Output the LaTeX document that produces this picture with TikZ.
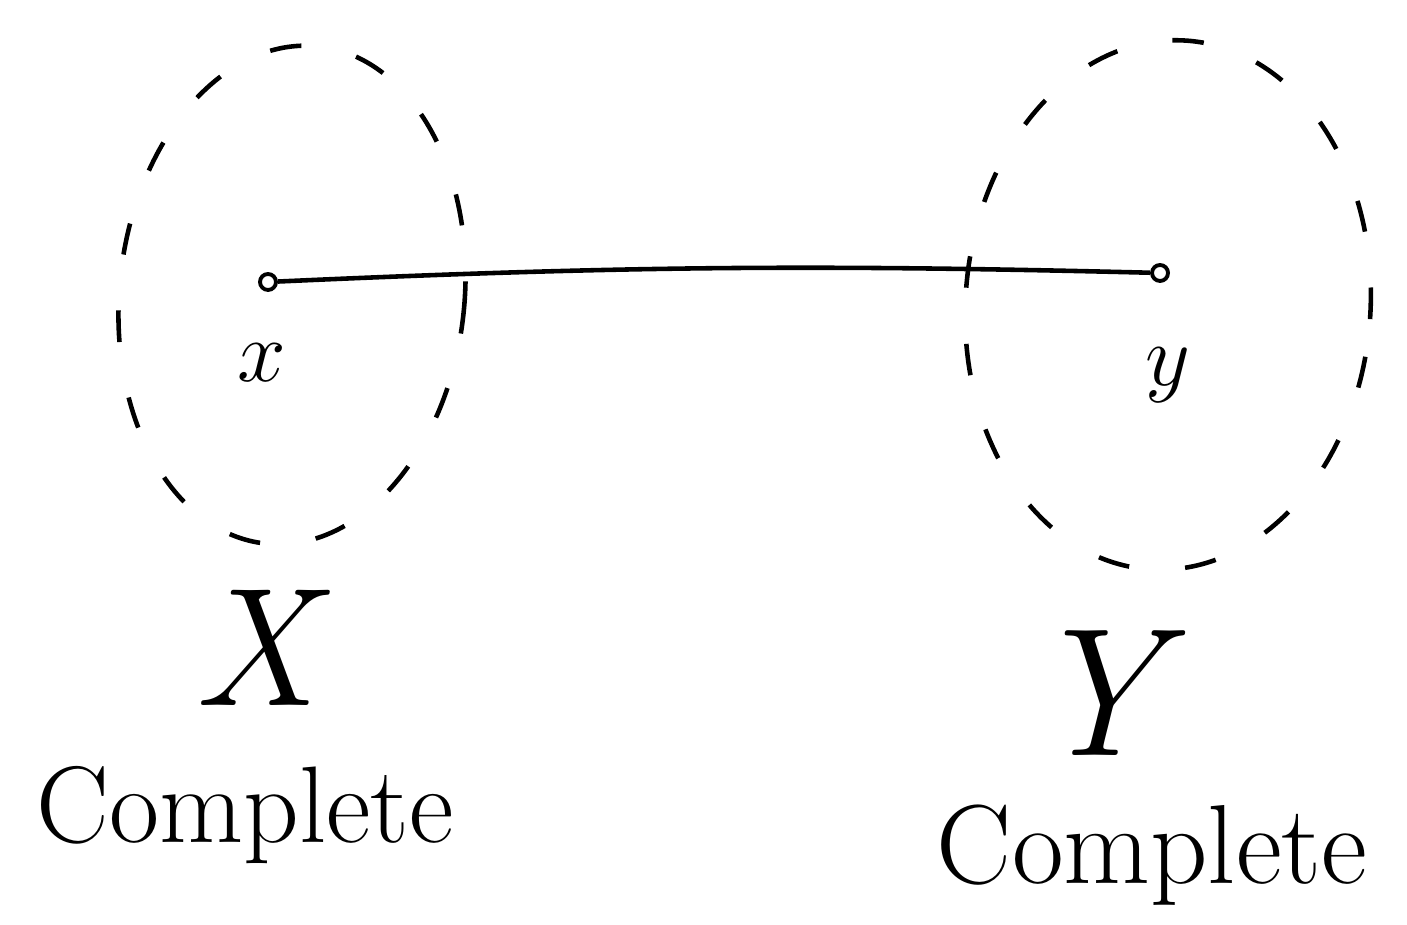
\documentclass[tikz,border=0pt]{standalone}
\usepackage{tikz}
\usetikzlibrary{positioning, shapes.geometric}
\tikzset{
  setblob/.style={draw, ellipse, line width=1.3pt, dash pattern=on 9pt off 16pt, inner sep=0pt},
  pt/.style={draw, circle, fill=white, line width=1.1pt, minimum size=0.16cm, inner sep=0pt},
  ptlabel/.style={font=\fontsize{26}{30}\selectfont},
  setlabel/.style={font=\fontsize{48}{52}\selectfont\itshape},
  word/.style={font=\fontsize{31}{36}\selectfont}
}
\begin{document}
\begin{tikzpicture}[x=1cm,y=1cm]
\useasboundingbox (0,0) rectangle (14.07,9.25);
% the two sets
\node[setblob, minimum width=3.45cm, minimum height=5.0cm, rotate=-6] (blobX) at (2.92,6.30) {};
\node[setblob, minimum width=4.05cm, minimum height=5.3cm, rotate=-4] (blobY) at (11.68,6.20) {};
% points and the edge
\node[pt] (x) at (2.68,6.43) {};
\node[pt] (y) at (11.60,6.52) {};
\draw[line width=1.3pt] (x) to[bend left=2] (y);
\node[ptlabel] (xlab) at (2.62,5.62) {$x$};
\node[ptlabel] (ylab) at (11.68,5.50) {$y$};
% set names
\node[setlabel] (X) at (2.55,2.77) {X};
\node[setlabel, font=\fontsize{52}{56}\selectfont\itshape] (Y) at (10.95,2.32) {Y};
\node[word] (cX) at (2.45,1.10) {Complete};
\node[word, font=\fontsize{32}{36}\selectfont] (cY) at (11.52,0.70) {Complete};
\end{tikzpicture}
\end{document}
